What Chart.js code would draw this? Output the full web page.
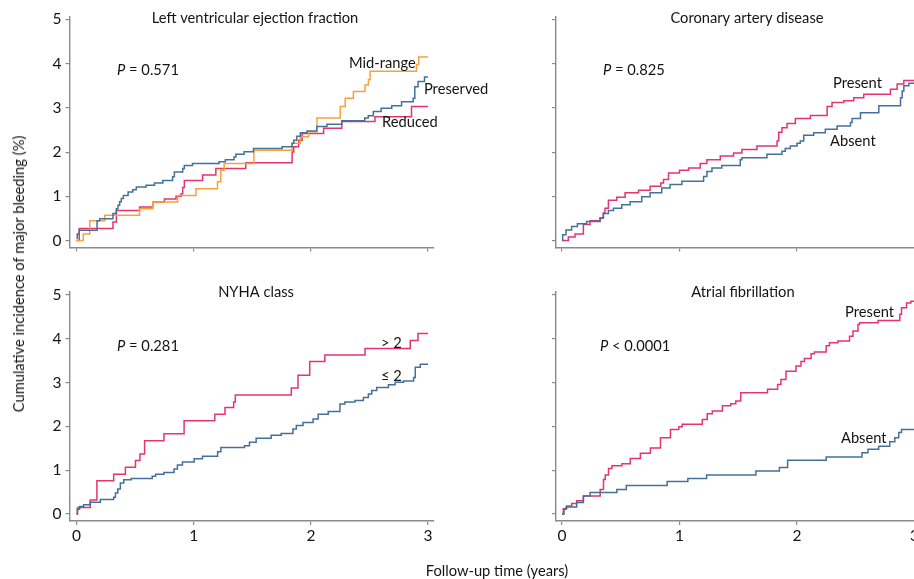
<!DOCTYPE html>
<html><head><meta charset="utf-8">
<script src="https://cdn.jsdelivr.net/npm/chart.js@4.4.0/dist/chart.umd.min.js"></script>
<style>
html,body{margin:0;padding:0;width:914px;height:579px;overflow:hidden;background:#fff;}
canvas{position:absolute;}
.ax{position:absolute;font-family:Lato,"Open Sans",sans-serif;font-size:14.7px;color:#141414;white-space:nowrap;transform:translate(-50%,-50%);}
</style></head><body>
<canvas id="pLvef"></canvas>
<canvas id="pCad"></canvas>
<canvas id="pNyha"></canvas>
<canvas id="pAf"></canvas>
<div class="ax" style="left:497px;top:570px;">Follow-up time (years)</div>
<div class="ax" style="left:18px;top:274px;transform:translate(-50%,-50%) rotate(-90deg);">Cumulative incidence of major bleeding (%)</div>
<script>
// ---- tick labels ----
const timeTicks = [0, 1, 2, 3];
const incidenceTicks = [0, 1, 2, 3, 4, 5];

// ---- Left ventricular ejection fraction ----
const lvefPreservedT = [0, 0.006, 0.023, 0.175, 0.198, 0.311, 0.34, 0.354, 0.368, 0.382, 0.40, 0.44, 0.48, 0.51, 0.594, 0.665, 0.736, 0.82, 0.835, 0.906, 0.92, 0.99, 1.217, 1.27, 1.344, 1.36, 1.43, 1.51, 1.755, 1.84, 1.854, 1.88, 1.91, 1.967, 2.05, 2.137, 2.264, 2.46, 2.49, 2.533, 2.6, 2.69, 2.774, 2.873, 2.887, 2.915, 2.97, 3.0];
const lvefPreservedV = [0.05, 0.15, 0.23, 0.45, 0.49, 0.61, 0.72, 0.80, 0.88, 0.95, 1.02, 1.10, 1.15, 1.21, 1.25, 1.30, 1.36, 1.44, 1.55, 1.63, 1.70, 1.74, 1.78, 1.83, 1.89, 1.95, 2.01, 2.08, 2.12, 2.20, 2.27, 2.36, 2.44, 2.48, 2.58, 2.63, 2.71, 2.77, 2.82, 2.92, 2.99, 3.05, 3.14, 3.22, 3.48, 3.60, 3.70, 3.70];
const lvefMidT = [0, 0.057, 0.113, 0.241, 0.538, 0.651, 0.863, 1.019, 1.203, 1.231, 1.26, 1.514, 1.84, 1.91, 1.981, 2.052, 2.25, 2.293, 2.363, 2.462, 2.491, 2.505, 2.901, 2.921, 3.0];
const lvefMidV = [0, 0.15, 0.45, 0.57, 0.72, 0.87, 1.02, 1.17, 1.33, 1.59, 1.74, 2.04, 2.20, 2.35, 2.46, 2.77, 3.03, 3.22, 3.37, 3.52, 3.64, 3.83, 3.98, 4.15, 4.15];
const lvefReducedT = [0, 0.023, 0.311, 0.34, 0.538, 0.651, 0.75, 0.849, 0.892, 0.906, 0.92, 1.076, 1.189, 1.444, 1.84, 1.854, 1.896, 1.925, 2.109, 2.264, 2.547, 2.859, 3.0];
const lvefReducedV = [0, 0.27, 0.42, 0.68, 0.76, 0.87, 0.94, 1.0, 1.06, 1.2, 1.36, 1.48, 1.63, 1.76, 2.0, 2.12, 2.27, 2.42, 2.54, 2.69, 2.8, 3.03, 3.03];

// ---- Coronary artery disease ----
const cadAbsentT = [0, 0.006, 0.034, 0.082, 0.131, 0.21, 0.324, 0.352, 0.395, 0.438, 0.509, 0.58, 0.679, 0.75, 0.849, 0.92, 1.02, 1.205, 1.233, 1.276, 1.36, 1.517, 1.531, 1.744, 1.872, 1.9, 1.943, 2.0, 2.028, 2.057, 2.142, 2.241, 2.341, 2.455, 2.469, 2.54, 2.696, 2.881, 2.895, 2.909, 2.952, 3.0];
const cadAbsentV = [0, 0.13, 0.24, 0.32, 0.38, 0.43, 0.51, 0.61, 0.68, 0.73, 0.81, 0.88, 0.99, 1.08, 1.19, 1.27, 1.34, 1.45, 1.56, 1.64, 1.70, 1.83, 1.87, 1.95, 2.02, 2.08, 2.14, 2.20, 2.25, 2.38, 2.44, 2.52, 2.59, 2.67, 2.76, 2.89, 3.05, 3.23, 3.38, 3.50, 3.56, 3.56];
const cadPresentT = [0, 0.054, 0.111, 0.182, 0.239, 0.324, 0.352, 0.366, 0.395, 0.466, 0.537, 0.651, 0.75, 0.841, 0.864, 0.906, 1.0, 1.077, 1.176, 1.233, 1.347, 1.46, 1.531, 1.659, 1.83, 1.844, 1.872, 1.915, 1.986, 2.114, 2.256, 2.298, 2.398, 2.483, 2.568, 2.795, 2.852, 2.909, 3.0];
const cadPresentV = [0, 0.08, 0.15, 0.36, 0.45, 0.51, 0.62, 0.73, 0.91, 0.98, 1.08, 1.14, 1.23, 1.30, 1.38, 1.53, 1.59, 1.64, 1.74, 1.83, 1.91, 1.98, 2.06, 2.14, 2.25, 2.45, 2.55, 2.65, 2.76, 2.83, 3.03, 3.12, 3.16, 3.23, 3.31, 3.42, 3.54, 3.62, 3.62];

// ---- NYHA class ----
const nyhaHighT = [0, 0.009, 0.117, 0.174, 0.317, 0.417, 0.503, 0.541, 0.581, 0.746, 0.918, 1.18, 1.267, 1.341, 1.355, 1.833, 1.89, 1.99, 2.119, 2.462, 2.848, 2.914, 3.0];
const nyhaHighV = [0, 0.15, 0.32, 0.76, 0.91, 1.07, 1.22, 1.37, 1.67, 1.83, 2.13, 2.28, 2.43, 2.56, 2.72, 2.88, 3.17, 3.48, 3.63, 3.78, 3.96, 4.12, 4.12];
const nyhaLowT = [0, 0.006, 0.026, 0.06, 0.117, 0.203, 0.317, 0.332, 0.352, 0.374, 0.403, 0.466, 0.646, 0.675, 0.746, 0.832, 0.861, 0.904, 1.004, 1.075, 1.204, 1.232, 1.433, 1.476, 1.533, 1.661, 1.747, 1.847, 1.876, 1.933, 2.019, 2.062, 2.148, 2.248, 2.29, 2.376, 2.448, 2.491, 2.519, 2.562, 2.662, 2.719, 2.791, 2.877, 2.891, 2.934, 3.0];
const nyhaLowV = [0, 0.11, 0.17, 0.21, 0.27, 0.33, 0.38, 0.48, 0.57, 0.71, 0.78, 0.81, 0.86, 0.91, 0.95, 1.03, 1.12, 1.19, 1.26, 1.32, 1.42, 1.52, 1.56, 1.64, 1.73, 1.80, 1.84, 1.94, 2.02, 2.09, 2.17, 2.28, 2.34, 2.51, 2.56, 2.59, 2.66, 2.74, 2.82, 2.89, 2.95, 3.01, 3.04, 3.12, 3.35, 3.42, 3.42];

// ---- Atrial fibrillation ----
const afPresentT = [0, 0.011, 0.04, 0.083, 0.125, 0.182, 0.325, 0.353, 0.368, 0.396, 0.425, 0.51, 0.581, 0.667, 0.752, 0.838, 0.923, 0.994, 1.023, 1.194, 1.236, 1.279, 1.365, 1.436, 1.479, 1.521, 1.749, 1.835, 1.863, 1.906, 1.991, 2.034, 2.063, 2.12, 2.148, 2.248, 2.276, 2.348, 2.447, 2.476, 2.519, 2.533, 2.69, 2.875, 2.889, 2.932, 2.969, 3.0];
const afPresentV = [0, 0.12, 0.18, 0.24, 0.30, 0.41, 0.56, 0.79, 0.89, 1.04, 1.10, 1.15, 1.27, 1.39, 1.51, 1.74, 1.93, 1.99, 2.05, 2.16, 2.29, 2.35, 2.47, 2.52, 2.58, 2.77, 2.85, 2.96, 3.07, 3.26, 3.38, 3.48, 3.55, 3.66, 3.70, 3.84, 3.91, 3.95, 4.06, 4.18, 4.33, 4.37, 4.42, 4.56, 4.71, 4.82, 4.86, 4.86];
const afAbsentT = [0, 0.017, 0.034, 0.125, 0.182, 0.239, 0.467, 0.547, 0.895, 1.071, 1.231, 1.65, 1.85, 1.92, 2.248, 2.553, 2.604, 2.695, 2.789, 2.832, 2.866, 2.889, 3.0];
const afAbsentV = [0, 0.11, 0.16, 0.26, 0.41, 0.49, 0.56, 0.65, 0.74, 0.81, 0.89, 0.98, 1.06, 1.23, 1.30, 1.40, 1.48, 1.55, 1.65, 1.74, 1.86, 1.93, 1.93];

// ---- styling ----
const BLUE = '#44709b', RED = '#e4356c', ORANGE = '#f8a13b', AXIS = '#8a8a8a', TEXT = '#141414';
const FONT = 'Lato, "Open Sans", sans-serif';

function pts(T, V) { const n = Math.min(T.length, V.length); const a = []; for (let i = 0; i < n; i++) a.push({x: T[i], y: V[i]}); return a; }

const panelText = {
  id: 'panelText',
  afterDatasetsDraw(chart, args, opts) {
    const {ctx} = chart; const x = chart.scales.x, y = chart.scales.y;
    ctx.save(); ctx.fillStyle = TEXT; ctx.textBaseline = 'middle';
    (opts.items || []).forEach(it => {
      const px = x.getPixelForValue(it.t), py = y.getPixelForValue(it.v);
      const f = (it.size || 14.7) + 'px ' + FONT;
      ctx.textAlign = it.align || 'left';
      if (it.italic) {
        ctx.font = 'italic ' + f; ctx.fillText(it.italic, px, py);
        const w = ctx.measureText(it.italic).width;
        ctx.font = f; ctx.fillText(it.text, px + w, py);
      } else { ctx.font = f; ctx.fillText(it.text, px, py); }
    });
    ctx.restore();
  }
};

function zeroPad(s) { s.paddingLeft = 0; s.paddingRight = 0; s.paddingTop = 0; s.paddingBottom = 0; }

function makePanel(id, box, area, series, texts, showX, showY) {
  const c = document.getElementById(id);
  c.width = box.W; c.height = box.H;
  c.style.left = box.L + 'px'; c.style.top = box.T + 'px';
  const yw = area.left - box.L, pt = area.top - box.T, pr = box.L + box.W - area.right, xh = box.T + box.H - area.bottom;
  const axisCommon = {
    grid: {display: true, drawOnChartArea: false, drawTicks: true, tickLength: 4, color: AXIS, lineWidth: 1.2},
    border: {display: true, color: AXIS, width: 1.4}
  };
  new Chart(c, {
    type: 'line',
    data: {datasets: series.map(s => ({data: pts(s.t, s.v), borderColor: s.color, borderWidth: 1.5, pointRadius: 0, stepped: true, fill: false, tension: 0}))},
    options: {
      responsive: false, animation: false, devicePixelRatio: 1,
      layout: {padding: {left: 0, top: pt, right: pr, bottom: 0}},
      plugins: {legend: {display: false}, tooltip: {enabled: false}, title: {display: false}, panelText: {items: texts}},
      scales: {
        x: Object.assign({type: 'linear', min: area.xmin, max: area.xmax,
          ticks: {display: showX, padding: 2, color: TEXT, font: {family: FONT, size: 15.5}, maxRotation: 0, autoSkip: false},
          afterBuildTicks: s => { s.ticks = timeTicks.map(v => ({value: v})); },
          afterFit: s => { s.height = xh; zeroPad(s); }}, axisCommon),
        y: Object.assign({type: 'linear', min: area.ymin, max: area.ymax,
          ticks: {display: showY, padding: 4, color: TEXT, font: {family: FONT, size: 15.5}, autoSkip: false},
          afterBuildTicks: s => { s.ticks = incidenceTicks.map(v => ({value: v})); },
          afterFit: s => { s.width = yw; zeroPad(s); }}, axisCommon)
      }
    },
    plugins: [panelText]
  });
}

const leftX = {left: 69.5, right: 433.9, xmin: -0.06, xmax: 3.05};
const rightX = {left: 556, right: 920.4, xmin: -0.051, xmax: 3.05};
const topY = {top: 16.4, bottom: 247.6, ymin: -0.16, ymax: 5.07};
const botY = {top: 292, bottom: 521, ymin: -0.16, ymax: 5.07};

makePanel('pLvef', {L: 0, T: 0, W: 530, H: 270}, Object.assign({}, leftX, topY), [
  {t: lvefPreservedT, v: lvefPreservedV, color: BLUE},
  {t: lvefMidT, v: lvefMidV, color: ORANGE},
  {t: lvefReducedT, v: lvefReducedV, color: RED}
], [
  {text: 'Left ventricular ejection fraction', t: 1.523, v: 5.03, align: 'center'},
  {italic: 'P', text: ' = 0.571', t: 0.346, v: 3.86},
  {text: 'Mid-range', t: 2.325, v: 4.02},
  {text: 'Preserved', t: 2.965, v: 3.42},
  {text: 'Reduced', t: 2.607, v: 2.68}
], false, true);

makePanel('pCad', {L: 457, T: 0, W: 480, H: 270}, Object.assign({}, rightX, topY), [
  {t: cadAbsentT, v: cadAbsentV, color: BLUE},
  {t: cadPresentT, v: cadPresentV, color: RED}
], [
  {text: 'Coronary artery disease', t: 1.574, v: 5.03, align: 'center'},
  {italic: 'P', text: ' = 0.825', t: 0.349, v: 3.86},
  {text: 'Present', t: 2.306, v: 3.56},
  {text: 'Absent', t: 2.281, v: 2.25}
], false, false);

makePanel('pNyha', {L: 0, T: 270, W: 530, H: 309}, Object.assign({}, leftX, botY), [
  {t: nyhaLowT, v: nyhaLowV, color: BLUE},
  {t: nyhaHighT, v: nyhaHighV, color: RED}
], [
  {text: 'NYHA class', t: 1.532, v: 5.07, align: 'center'},
  {italic: 'P', text: ' = 0.281', t: 0.346, v: 3.84},
  {text: '> 2', t: 2.598, v: 3.9},
  {text: '\u2264 2', t: 2.598, v: 3.15}
], true, true);

makePanel('pAf', {L: 457, T: 270, W: 480, H: 309}, Object.assign({}, rightX, botY), [
  {t: afAbsentT, v: afAbsentV, color: BLUE},
  {t: afPresentT, v: afPresentV, color: RED}
], [
  {text: 'Atrial fibrillation', t: 1.54, v: 5.07, align: 'center'},
  {italic: 'P', text: ' < 0.0001', t: 0.323, v: 3.84},
  {text: 'Present', t: 2.409, v: 4.61},
  {text: 'Absent', t: 2.374, v: 1.74}
], true, false);
</script>
</body></html>
